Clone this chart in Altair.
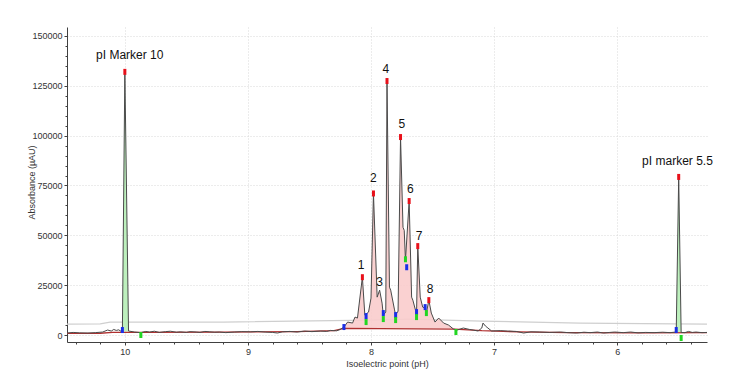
import altair as alt
import pandas as pd

# ---- trace (pH, absorbance in µAU) ----
trace_ph = [10.47, 10.42, 10.37, 10.30, 10.24, 10.18, 10.14, 10.11, 10.09, 10.07, 10.05, 10.03,
            10.02, 10.00, 9.97, 9.95, 9.92, 9.87, 9.83, 9.80, 9.76, 9.72, 9.67, 9.63, 9.58, 9.55,
            9.50, 9.47, 9.42, 9.39, 9.35, 9.31, 9.27, 9.23, 9.18, 9.11, 9.05, 8.98, 8.92, 8.86,
            8.80, 8.76, 8.72, 8.66, 8.60, 8.54, 8.48, 8.41, 8.36, 8.33, 8.28, 8.25, 8.22, 8.19,
            8.15, 8.13, 8.11, 8.07, 8.05, 8.02, 8.00, 7.98, 7.95, 7.93, 7.91, 7.90, 7.88, 7.87,
            7.85, 7.84, 7.81, 7.80, 7.78, 7.76, 7.74, 7.73, 7.72, 7.69, 7.67, 7.66, 7.63, 7.62,
            7.60, 7.58, 7.56, 7.55, 7.53, 7.51, 7.48, 7.45, 7.41, 7.37, 7.33, 7.30, 7.25, 7.20,
            7.17, 7.13, 7.10, 7.09, 7.07, 7.05, 7.02, 6.95, 6.89, 6.82, 6.76, 6.70, 6.63, 6.55,
            6.46, 6.40, 6.33, 6.27, 6.22, 6.16, 6.11, 6.06, 6.02, 5.95, 5.89, 5.83, 5.77, 5.70,
            5.63, 5.57, 5.52, 5.50, 5.48, 5.45, 5.42, 5.39, 5.36, 5.31, 5.27]
trace_abs = [1000, 1300, 1100, 1000, 1200, 1500, 2500, 2000, 2800, 2300, 2600, 1800,
             1800, 132000, 2000, 1800, 1500, 1200, 1800, 1500, 1900, 1300, 1700, 1900, 1400, 1600,
             1300, 1700, 1500, 1300, 1800, 1600, 1400, 1500, 1200, 1500, 1700, 1600, 1800, 1500,
             1300, 1000, 1600, 1800, 1500, 2000, 1700, 2000, 1800, 2300, 2100, 2800, 4000, 6500,
             6000, 9000, 8500, 29000, 10000, 11500, 18500, 71000, 19000, 22500, 16000, 10000, 11500, 127400,
             24000, 22500, 13000, 10000, 12000, 99300, 54000, 52500, 37500, 67200, 19000, 17500, 10500, 44600,
             19000, 14000, 13500, 11000, 17500, 11000, 6500, 8500, 6000, 5000, 3000, 2500, 3500, 2800,
             2500, 2000, 3500, 6000, 4500, 3500, 2000, 2200, 2000, 1800, 1000, 1600, 1500, 1300,
             1500, 1200, 1000, 1400, 1200, 1500, 1000, 1300, 1500, 1200, 1500, 1100, 1300, 1200,
             1400, 1200, 1500, 79300, 1300, 1200, 1800, 1300, 1500, 1200, 1300]

# ---- baseline (red) and threshold (light grey) ----
base_ph = [10.47, 10.20, 10.10, 9.80, 9.20, 8.60, 8.30, 8.22, 7.32, 7.10, 6.80, 6.40, 5.80, 5.27]
base_abs = [800, 900, 1300, 1300, 1500, 1700, 2200, 3300, 3000, 2200, 1600, 1200, 1100, 1200]
thr_ph = [10.47, 10.20, 10.12, 9.20, 8.00, 7.70, 7.10, 6.30, 5.27]
thr_abs = [5500, 5600, 6500, 6500, 7500, 8000, 7000, 6000, 5500]

# ---- peak markers ----
top_ph = [10.00, 8.07, 7.98, 7.87, 7.76, 7.69, 7.62, 7.53, 5.50]
top_abs = [132000, 29000, 71000, 127400, 99300, 67200, 44600, 17500, 79300]
start_ph = [10.02, 8.22, 8.04, 7.90, 7.80, 7.71, 7.63, 7.56, 5.52]
start_abs = [2500, 4000, 9500, 11000, 10000, 34000, 11500, 14000, 2500]
end_ph = [9.87, 8.04, 7.90, 7.80, 7.72, 7.63, 7.55, 7.31, 5.48]
end_abs = [0, 6500, 8000, 7500, 38000, 9000, 11000, 1500, -1500]

# ---- annotations ----
label_text = ["pI Marker 10", "1", "2", "3", "4", "5", "6", "7", "8", "pI marker 5.5"]
label_ph = [9.96, 8.08, 7.98, 7.93, 7.88, 7.75, 7.68, 7.61, 7.52, 5.51]
label_abs = [140500, 35100, 78800, 26600, 133400, 105900, 73200, 49700, 23100, 87500]

# ---- axes ----
x_major = [10, 9, 8, 7, 6]
x_minor = [10.4, 10.2, 9.8, 9.6, 9.4, 9.2, 8.8, 8.6, 8.4, 8.2, 7.8, 7.6, 7.4, 7.2,
           6.8, 6.6, 6.4, 6.2, 5.8, 5.6, 5.4]
y_major = [0, 25000, 50000, 75000, 100000, 125000, 150000]
y_minor = [5000, 10000, 15000, 20000, 30000, 35000, 40000, 45000, 55000, 60000, 65000, 70000,
           80000, 85000, 90000, 95000, 105000, 110000, 115000, 120000, 130000, 135000, 140000, 145000]

FONT = "Liberation Sans"
xs = alt.Scale(domain=[5.27, 10.47], reverse=True, nice=False, zero=False)
ys = alt.Scale(domain=[-3500, 154500], nice=False, zero=False)

trace = pd.DataFrame({"ph": trace_ph, "abs": trace_abs})
base = pd.DataFrame({"ph": base_ph, "abs": base_abs})
thr = pd.DataFrame({"ph": thr_ph, "abs": thr_abs})

sample_fill = trace[(trace.ph >= 7.31) & (trace.ph <= 8.22)].copy()
sample_fill["b"] = 3300
m1 = trace[(trace.ph >= 9.97) & (trace.ph <= 10.02)].copy()
m1["b"] = 1800
m2 = trace[(trace.ph >= 5.48) & (trace.ph <= 5.52)].copy()
m2["b"] = 1400

marks_df = pd.DataFrame({
    "ph": top_ph + start_ph + end_ph,
    "abs": top_abs + start_abs + end_abs,
    "kind": ["top"] * len(top_ph) + ["start"] * len(start_ph) + ["end"] * len(end_ph),
})
labels = pd.DataFrame({"t": label_text, "ph": label_ph, "abs": label_abs})


def X(axis=None):
    return alt.X("ph:Q", scale=xs, axis=axis)


def Y(axis=None):
    return alt.Y("abs:Q", scale=ys, axis=axis)


major_axes = alt.Chart(trace).mark_line(opacity=0).encode(
    x=X(alt.Axis(values=x_major, title="Isoelectric point (pH)", grid=True, format="d",
                 gridColor="#d8d8d8", gridDash=[1, 2], gridWidth=1,
                 domainColor="#404040", tickColor="#404040", tickSize=3,
                 labelFont=FONT, labelFontSize=9, labelColor="#333333", labelPadding=2,
                 titleFont=FONT, titleFontSize=9, titleFontWeight="normal",
                 titleColor="#333333", titlePadding=3, orient="bottom")),
    y=Y(alt.Axis(values=y_major, title="Absorbance (µAU)", grid=True, format="d",
                 gridColor="#d8d8d8", gridDash=[1, 2], gridWidth=1,
                 domainColor="#404040", tickColor="#404040", tickSize=3,
                 labelFont=FONT, labelFontSize=9, labelColor="#333333", labelPadding=2,
                 titleFont=FONT, titleFontSize=9, titleFontWeight="normal",
                 titleColor="#333333", titleX=-36, titleY=155, titleAngle=270,
                 titleAlign="center", titleBaseline="middle", orient="left")),
)

minor_axes = alt.Chart(trace).mark_line(opacity=0).encode(
    x=X(alt.Axis(values=x_minor, title=None, labels=False, grid=False, domain=False,
                 tickColor="#404040", tickSize=2, orient="bottom")),
    y=Y(alt.Axis(values=y_minor, title=None, labels=False, grid=False, domain=False,
                 tickColor="#404040", tickSize=2, orient="left")),
)

thr_line = alt.Chart(thr).mark_line(color="#cfcfcf", strokeWidth=1.3).encode(x=X(), y=Y())

fill_sample = alt.Chart(sample_fill).mark_area(color="#f9cccc", opacity=0.9).encode(
    x=X(), y=Y(), y2="b:Q")
fill_m1 = alt.Chart(m1).mark_area(color="#bdf0bd", opacity=1).encode(x=X(), y=Y(), y2="b:Q")
fill_m2 = alt.Chart(m2).mark_area(color="#bdf0bd", opacity=1).encode(x=X(), y=Y(), y2="b:Q")

base_line = alt.Chart(base).mark_line(color="#b03030", strokeWidth=1.3).encode(x=X(), y=Y())
trace_line = alt.Chart(trace).mark_line(color="#4a4a4a", strokeWidth=1).encode(x=X(), y=Y())

ticks = alt.Chart(marks_df).mark_tick(orient="vertical", size=6, thickness=3, opacity=1).encode(
    x=X(), y=Y(),
    color=alt.Color("kind:N", scale=alt.Scale(domain=["top", "start", "end"],
                                              range=["#e8101a", "#1a2ee8", "#22d622"]),
                    legend=None),
)

texts = alt.Chart(labels).mark_text(font=FONT, fontSize=12, color="#111111",
                                    baseline="middle", align="center").encode(
    x=X(), y=Y(), text="t:N")

chart = alt.layer(
    major_axes, minor_axes, thr_line, fill_sample, fill_m1, fill_m2,
    base_line, trace_line, ticks, texts,
).resolve_axis(x="independent", y="independent").resolve_scale(x="shared", y="shared").properties(
    width=640, height=315,
    autosize=alt.AutoSizeParams(type="none"),
    padding={"left": 59, "top": 19, "right": 35, "bottom": 40},
    background="white",
).configure_view(stroke=None)

chart.save("out.html", embed_options={"renderer": "svg", "actions": False})
